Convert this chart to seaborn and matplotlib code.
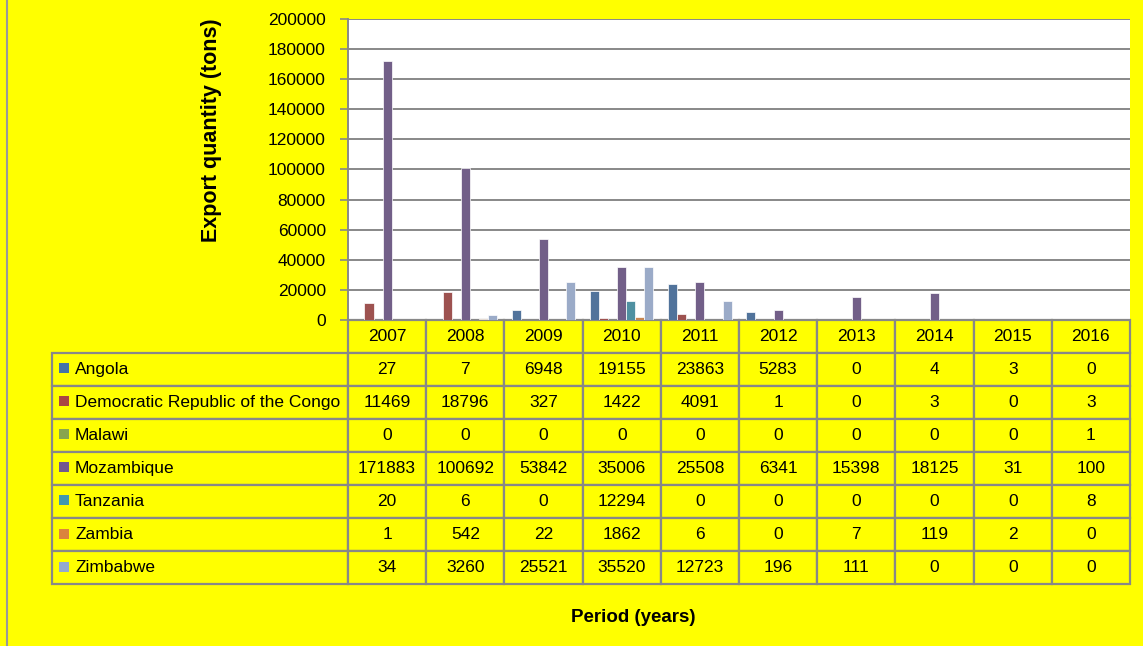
import numpy as np
import pandas as pd
import matplotlib
matplotlib.use('Agg')
import matplotlib.pyplot as plt
import seaborn as sns
from matplotlib import font_manager
from matplotlib.patches import Rectangle
from matplotlib.lines import Line2D


# Export quantities (tons) per country, 2007-2016
years = ['2007', '2008', '2009', '2010', '2011', '2012', '2013', '2014', '2015', '2016']
countries = ['Angola', 'Democratic Republic of the Congo', 'Malawi', 'Mozambique',
             'Tanzania', 'Zambia', 'Zimbabwe']
angola = [27, 7, 6948, 19155, 23863, 5283, 0, 4, 3, 0]
drc = [11469, 18796, 327, 1422, 4091, 1, 0, 3, 0, 3]
malawi = [0, 0, 0, 0, 0, 0, 0, 0, 0, 1]
mozambique = [171883, 100692, 53842, 35006, 25508, 6341, 15398, 18125, 31, 100]
tanzania = [20, 6, 0, 12294, 0, 0, 0, 0, 0, 8]
zambia = [1, 542, 22, 1862, 6, 0, 7, 119, 2, 0]
zimbabwe = [34, 3260, 25521, 35520, 12723, 196, 111, 0, 0, 0]
colors = ['#4572A7', '#AA4643', '#89A54E', '#71588F', '#4198AF', '#DB843D', '#93A9CF']
yticks = [0, 20000, 40000, 60000, 80000, 100000, 120000, 140000, 160000, 180000, 200000]

series = [angola, drc, malawi, mozambique, tanzania, zambia, zimbabwe]

# long form for seaborn
rows = []
for name, vals in zip(countries, series):
    for yr, v in zip(years, vals):
        rows.append({'year': yr, 'country': name, 'tons': v})
df = pd.DataFrame(rows)

# narrow font if there is one, else plain Liberation Sans a bit smaller
installed = {f.name for f in font_manager.fontManager.ttflist}
if 'Liberation Sans Narrow' in installed:
    plt.rcParams['font.family'] = ['Liberation Sans Narrow', 'DejaVu Sans']
    fs, fs_x = 14, 14
else:
    plt.rcParams['font.family'] = ['Liberation Sans', 'DejaVu Sans']
    fs, fs_x = 12.5, 13.5

W, H = 1143, 646
fig = plt.figure(figsize=(W / 100, H / 100), dpi=100, facecolor='#FFFF00')
ax = fig.add_axes([348 / W, 1 - 320 / H, 782 / W, 301 / H])
ax.set_facecolor('white')

sns.barplot(data=df, x='year', y='tons', hue='country', hue_order=countries,
            order=years, palette=dict(zip(countries, colors)), width=0.81,
            edgecolor='white', linewidth=0.5, legend=False, ax=ax, zorder=3)

ax.set_ylim(0, 200000)
ax.set_yticks(yticks)
ax.set_yticklabels([str(t) for t in yticks], fontsize=fs)
ax.yaxis.grid(True, color='#888888', linewidth=1.4, zorder=0)
ax.set_axisbelow(True)
ax.tick_params(axis='y', length=6, width=1.2, color='#888888', pad=10)
ax.tick_params(axis='x', length=0, labelbottom=False)
ax.set_xlabel('')
ax.set_ylabel('')
for s in ['top', 'right', 'bottom']:
    ax.spines[s].set_visible(False)
ax.spines['left'].set_color('#888888')
ax.spines['left'].set_linewidth(1.4)

# data table under the chart
cell_text = [[name] + [str(v) for v in vals] for name, vals in zip(countries, series)]
left_px = 52
tab_w = 1130 - left_px
bbox = [(left_px - 348) / 782, -(584 - 320) / 301, tab_w / 782, (584 - 320) / 301]
tbl = ax.table(cellText=cell_text, colLabels=[''] + years, cellLoc='center',
               colWidths=[296 / tab_w] + [78.2 / tab_w] * 10, bbox=bbox)
tbl.auto_set_font_size(False)
tbl.set_fontsize(fs)
for (r, c), cell in tbl.get_celld().items():
    cell.set_facecolor('#FFFF00')
    cell.set_edgecolor('#888888')
    cell.set_linewidth(1.6)
    if c == 0:
        cell._loc = 'left'
        cell.get_text().set_horizontalalignment('left')
        cell.PAD = 23 / 296
tbl[(0, 0)].visible_edges = ''

# legend keys in the row labels
for i, col in enumerate(colors):
    yc = 368 + i * 33.1
    fig.add_artist(Rectangle((59 / W, 1 - (yc + 5) / H), 10 / W, 10 / H,
                             transform=fig.transFigure, facecolor=col, edgecolor='none'))

fig.text(212 / W, 1 - 130 / H, 'Export quantity (tons)', rotation=90, ha='center',
         va='center', fontsize=15.5, fontweight='bold', family=['Liberation Sans', 'DejaVu Sans'])
fig.text(633 / W, 1 - 618 / H, 'Period (years)', ha='center', va='center',
         fontsize=fs_x, fontweight='bold')

fig.add_artist(Line2D([7 / W, 7 / W], [0, 1], transform=fig.transFigure,
                      color='#999999', linewidth=1.5))

fig.savefig('out.png', dpi=100, facecolor=fig.get_facecolor())
